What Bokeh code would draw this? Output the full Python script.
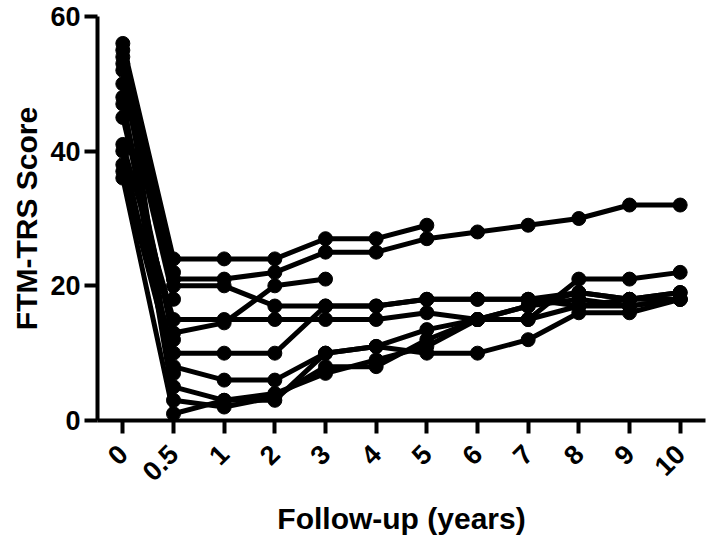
import math
from bokeh.plotting import figure
from bokeh.models import FactorRange, Range1d, FixedTicker
from bokeh.embed import file_html
from bokeh.resources import INLINE

# ---- data ----
x_labels = ["0", "0.5", "1", "2", "3", "4", "5", "6", "7", "8", "9", "10"]
y_ticks = [0, 20, 40, 60]

s1 = [52, 21, 21, 22, 25, 25, 27, 28, 29, 30, 32, 32]
s2 = [56, 24, 24, 24, 27, 27, 29, None, None, None, None, None]
s3 = [45, 13, 14.5, 20, 21, None, None, None, None, None, None, None]
s4 = [55, 20, 20, 17, 17, 17, 18, 18, 18, 17, 18, 18]
s5 = [41, 15, 15, 15, 15, 15, 16, 15, 15, 21, 21, 22]
s6 = [38, 10, 10, 10, 17, 17, 18, 18, 18, 19, 18, 19]
s7 = [37, 8, 6, 6, 10, 11, 13.5, 15, 17, 19, 18, 19]
s8 = [54, 5, 3, 3, 10, 11, 10, 10, 12, 16, 16, 18]
s9 = [48, 3, 2, 3.5, 8, 8, 12, 15, 15, 17, 17, 18]
s10 = [36, 1, 3, 4, 7, 9, 11, 15, 17, 18, 17, 18]
s11 = [53, 22, None, None, None, None, None, None, None, None, None, None]
s12 = [50, 18, None, None, None, None, None, None, None, None, None, None]
s13 = [47, 12, None, None, None, None, None, None, None, None, None, None]
s14 = [40, 7, None, None, None, None, None, None, None, None, None, None]
subjects = [s1, s2, s3, s4, s5, s6, s7, s8, s9, s10, s11, s12, s13, s14]

FONT = "Liberation Sans"

p = figure(width=708, height=541, x_range=FactorRange(*x_labels),
           y_range=Range1d(0, 60), output_backend="svg", toolbar_location=None,
           min_border_left=97, min_border_right=3, min_border_top=16,
           min_border_bottom=121)

for s in subjects:
    xs = [x_labels[i] for i, v in enumerate(s) if v is not None]
    ys = [v for v in s if v is not None]
    p.line(xs, ys, line_color="black", line_width=5)
    p.scatter(xs, ys, size=14, fill_color="black", line_color="black")

p.outline_line_color = None
p.grid.visible = False
p.background_fill_color = "white"

for ax in (p.xaxis[0], p.yaxis[0]):
    ax.axis_line_width = 4
    ax.axis_line_color = "black"
    ax.major_tick_line_width = 4
    ax.major_tick_line_color = "black"
    ax.major_tick_in = 0
    ax.major_tick_out = 13
    ax.minor_tick_line_color = None
    ax.major_label_text_font = FONT
    ax.major_label_text_font_style = "bold"
    ax.major_label_text_font_size = "27px"
    ax.major_label_text_color = "black"
    ax.axis_label_text_font = FONT
    ax.axis_label_text_font_style = "bold"
    ax.axis_label_text_font_size = "30px"
    ax.axis_label_text_color = "black"

p.yaxis[0].ticker = FixedTicker(ticks=y_ticks)
p.yaxis[0].major_label_standoff = 4
p.yaxis[0].axis_label = "FTM-TRS Score"
p.yaxis[0].axis_label_standoff = 4

p.xaxis[0].major_label_orientation = math.pi / 4
p.xaxis[0].major_label_standoff = 16
p.xaxis[0].axis_label = "Follow-up (years)"
p.xaxis[0].axis_label_standoff = 10

open("out.html", "w").write(file_html(p, INLINE))
